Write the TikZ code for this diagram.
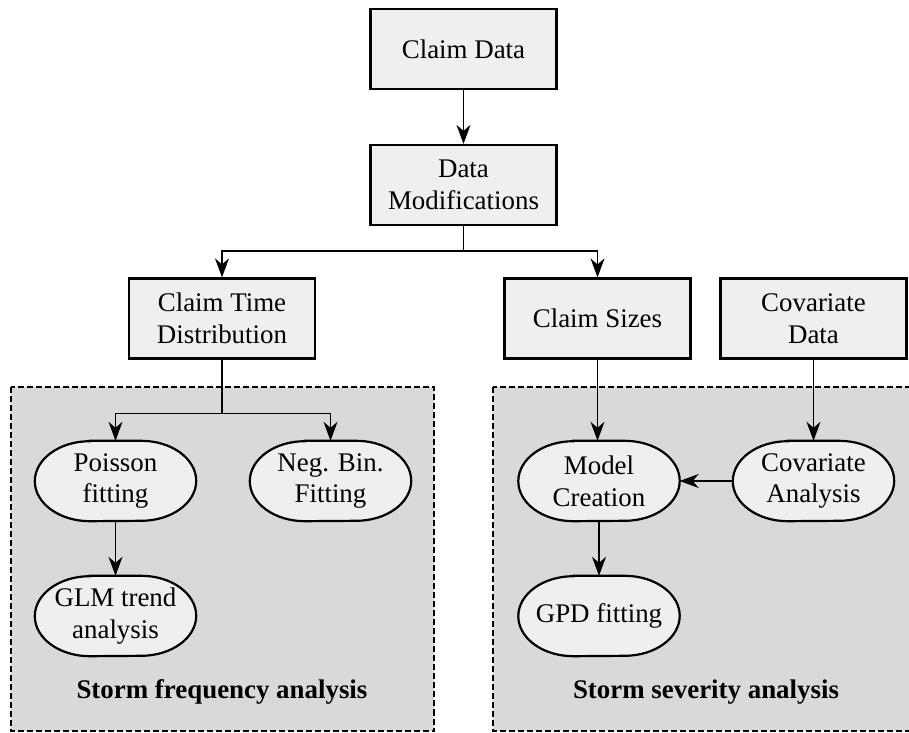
\documentclass[tikz,border=0pt]{standalone}
\usepackage{fontspec}
\setmainfont{Liberation Serif}
\usetikzlibrary{arrows.meta,calc}
\pgfdeclarelayer{panel}
\pgfdeclarelayer{shapes}
\pgfsetlayers{panel,shapes,main}
\definecolor{boxfill}{HTML}{EFEFEF}
\definecolor{panelfill}{HTML}{D9D9D9}
\tikzset{
  x=1bp, y=-1bp,
  txt/.style={font=\fontsize{27}{32}\selectfont, align=center, inner sep=0pt},
  procbox/.style={txt, draw=black, line width=2.2bp, fill=boxfill,
    minimum width=186bp, minimum height=80bp},
  termnode/.style={txt, minimum width=161bp, minimum height=80bp},
  flow/.style={line width=1.6bp, -{Stealth[length=19bp,width=14bp,inset=6bp]}},
  plainline/.style={line width=1.6bp},
  panelbox/.style={fill=panelfill, draw=black, line width=2bp, dash pattern=on 6bp off 3bp},
  paneltitle/.style={font=\fontsize{27}{32}\selectfont\bfseries, inner sep=0pt},
}
% stadium outline with elliptic ends around a terminal node
\newcommand{\stadiumaround}[1]{%
  \begin{pgfonlayer}{shapes}
    \draw[line width=2.2bp, fill=boxfill]
      ($(#1.north west)+(55,0)$) -- ($(#1.north east)+(-55,0)$)
      arc[start angle=-90, end angle=90, x radius=55, y radius=40]
      -- ($(#1.south west)+(55,0)$)
      arc[start angle=90, end angle=270, x radius=55, y radius=40] -- cycle;
  \end{pgfonlayer}}
\begin{document}
\begin{tikzpicture}
\useasboundingbox (0,0) rectangle (909,733);
\clip (0,0) rectangle (909,733);

% processing boxes
\node[procbox] (claim) at (463.5,49) {Claim Data};
\node[procbox] (mods) at (463.5,185) {Data\\Modifications};
\node[procbox] (ctd) at (222,318.5) {Claim Time\\Distribution};
\node[procbox] (sizes) at (597.5,318.5) {Claim Sizes};
\node[procbox] (covd) at (813.5,318.5) {Covariate\\Data};

% terminal nodes inside the panels
\node[termnode] (pois) at (115.5,481) {Poisson\\fitting};
\node[termnode] (negb) at (330.5,481) {Neg. Bin.\\Fitting};
\node[termnode] (glm) at (115.5,616) {GLM trend\\analysis};
\node[termnode] (model) at (599,481) {Model\\Creation};
\node[termnode] (cova) at (813.5,481) {Covariate\\Analysis};
\node[termnode] (gpd) at (599,616) {GPD fitting};
\foreach \n in {pois,negb,glm,model,cova,gpd}{\stadiumaround{\n}}

% dashed analysis panels
\begin{pgfonlayer}{panel}
  \draw[panelbox] (10.5,387) rectangle (434,731);
  \draw[panelbox] (493,387) rectangle (925,731);
\end{pgfonlayer}
\node[paneltitle] (freq) at (222,692) {Storm frequency analysis};
\node[paneltitle] (sev) at (706,692) {Storm severity analysis};

% connectors
\coordinate (split) at ($(mods.south)+(0,25)$);
\coordinate (fork) at ($(ctd.south)+(0,54)$);
\draw[flow] (claim) -- (mods);
\draw[plainline] (mods.south) -- (split);
\draw[flow] (split) -| (ctd.north);
\draw[flow] (split) -| (sizes.north);
\draw[plainline] (ctd.south) -- (fork);
\draw[flow] (fork) -| (pois.north);
\draw[flow] (fork) -| (negb.north);
\draw[flow] (pois) -- (glm);
\draw[flow] (sizes.south) -- (sizes.south |- model.north);
\draw[flow] (covd) -- (cova);
\draw[flow] (cova) -- (model);
\draw[flow] (model) -- (gpd);
\end{tikzpicture}
\end{document}
